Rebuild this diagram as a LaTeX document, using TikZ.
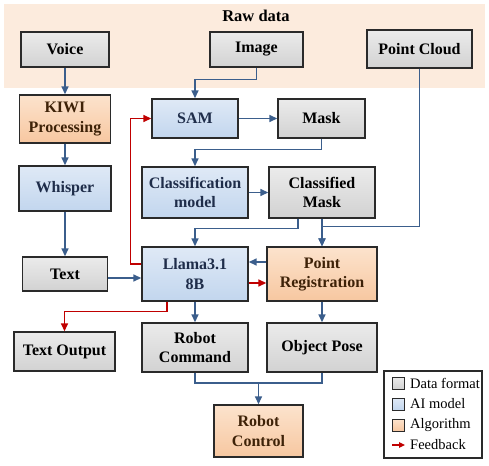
\documentclass[tikz,border=0pt]{standalone}
\usepackage{fontspec}
\setmainfont{Liberation Serif}
\usetikzlibrary{arrows.meta}
\definecolor{rawbg}{HTML}{FCEBDD}
\definecolor{grayT}{HTML}{EBEBEB}
\definecolor{grayB}{HTML}{D2D2D2}
\definecolor{blueT}{HTML}{DFE9F6}
\definecolor{blueB}{HTML}{C2D6EE}
\definecolor{orT}{HTML}{FCE3CD}
\definecolor{orB}{HTML}{F7C7A0}
\definecolor{bluetext}{HTML}{1F2D4A}
\definecolor{ortext}{HTML}{3E2208}
\definecolor{arrblue}{HTML}{3B5E8C}
\definecolor{arrred}{HTML}{C00000}
\definecolor{edge}{HTML}{2A2A2A}
\tikzset{
  box/.style={draw=edge, line width=1.4pt, align=center, inner sep=1pt,
    font=\fontsize{16}{19.5}\selectfont\bfseries},
  gbox/.style={box, top color=grayT, bottom color=grayB, text=black},
  bbox/.style={box, top color=blueT, bottom color=blueB, text=bluetext},
  obox/.style={box, top color=orT, bottom color=orB, text=ortext},
  arr/.style={draw=arrblue, line width=1.5pt, -{Triangle[length=8pt,width=7pt]}},
  farr/.style={draw=arrred, line width=1.5pt, -{Triangle[length=8pt,width=7pt]}},
  lnk/.style={draw=arrblue, line width=1.5pt},
  legtext/.style={anchor=west, font=\fontsize{14.5}{16}\selectfont, inner sep=0pt},
  legsq/.style={draw=edge, line width=1pt, minimum size=12pt, inner sep=0pt}
}
\begin{document}
\begin{tikzpicture}[x=1pt,y=-1pt]
\useasboundingbox (0,0) rectangle (489,465);
\node[fill=rawbg, minimum width=481pt, minimum height=84pt, inner sep=0pt] (raw) at (244.5,46) {};
\node[font=\fontsize{16.5}{19}\selectfont\bfseries] (rawlbl) at (256,16) {Raw data};

\node[gbox, minimum width=88pt, minimum height=35pt] (voice) at (65,49.5) {Voice};
\node[gbox, minimum width=93pt, minimum height=35pt] (image) at (256.5,49.5) {Image};
\node[gbox, minimum width=105pt, minimum height=38pt] (pc) at (419.5,49) {Point Cloud};
\node[obox, minimum width=91pt, minimum height=48pt] (kiwi) at (65,119) {KIWI\\Processing};
\node[bbox, minimum width=86pt, minimum height=39pt] (sam) at (195,118.5) {SAM};
\node[gbox, minimum width=87pt, minimum height=39pt] (mask) at (321.5,118.5) {Mask};
\node[bbox, minimum width=92pt, minimum height=45pt] (whisper) at (65,188.5) {Whisper};
\node[bbox, minimum width=106pt, minimum height=51pt] (cls) at (195,192.5) {Classification\\model};
\node[gbox, minimum width=106pt, minimum height=51pt] (cmask) at (322,192.5) {Classified\\Mask};
\node[gbox, minimum width=85pt, minimum height=34pt] (text) at (65,274) {Text};
\node[bbox, minimum width=106pt, minimum height=54pt] (llama) at (195,274) {Llama3.1\\8B};
\node[obox, minimum width=110pt, minimum height=54pt] (preg) at (322,274) {Point\\Registration};
\node[gbox, minimum width=101pt, minimum height=39pt] (tout) at (64.5,351.5) {Text Output};
\node[gbox, minimum width=106pt, minimum height=49pt] (rcmd) at (195,347.5) {Robot\\Command};
\node[gbox, minimum width=110pt, minimum height=49pt] (opose) at (322,347.5) {Object Pose};
\node[obox, minimum width=89pt, minimum height=52pt] (rctl) at (258.5,431) {Robot\\Control};

% connectors
\draw[arr] (voice.south) -- (kiwi.north);
\draw[arr] (kiwi.south) -- (whisper.north);
\draw[arr] (whisper.south) -- (text.north);
\draw[arr] (image.south) -- ++(0,12) -| (sam.north);
\draw[arr] (sam.east) -- (mask.west);
\draw[arr] (mask.south) -- ++(0,11) -| (cls.north);
\draw[arr] (cls.east) -- (cmask.west);
\draw[arr] ([xshift=-24pt]cmask.south) -- ++(0,10) -| (llama.north);
\draw[arr] (cmask.south) -- (preg.north);
\draw[arr] (pc.south) -- ++(0,158) -| (preg.north);
\draw[arr] ([yshift=-4pt]text.east) -- ([yshift=-4pt]llama.west);
\draw[arr] ([yshift=12pt]preg.west) -- ([yshift=12pt]llama.east);
\draw[farr] ([yshift=-9pt]llama.east) -- ([yshift=-9pt]preg.west);
\draw[farr] ([yshift=10pt]llama.west) -- ++(-11,0) |- (sam.west);
\draw[farr] ([xshift=-28pt]llama.south) -- ++(0,10) -| (tout.north);
\draw[arr] (llama.south) -- (rcmd.north);
\draw[arr] (preg.south) -- (opose.north);
\coordinate (join) at (258.5,383);
\draw[lnk] (rcmd.south) |- (join) -| (opose.south);
\draw[arr] (join) -- (rctl.north);

% legend
\node[draw=edge, line width=1.3pt, fill=white, minimum width=98pt, minimum height=87pt, inner sep=0pt] (legend) at (433,414.5) {};
\node[legsq, top color=grayT, bottom color=grayB] (lg1) at (398,383) {};
\node[legsq, top color=blueT, bottom color=blueB] (lg2) at (398,404) {};
\node[legsq, top color=orT, bottom color=orB] (lg3) at (398,425) {};
\coordinate (lg4a) at (392,445);
\coordinate (lg4b) at (405,445);
\draw[draw=arrred, line width=1.2pt, -{Triangle[length=6pt,width=5.5pt]}] (lg4a) -- (lg4b);
\node[legtext] (lt1) at (410,383) {Data format};
\node[legtext] (lt2) at (410,404) {AI model};
\node[legtext] (lt3) at (410,425) {Algorithm};
\node[legtext] (lt4) at (410,445) {Feedback};
\end{tikzpicture}
\end{document}
